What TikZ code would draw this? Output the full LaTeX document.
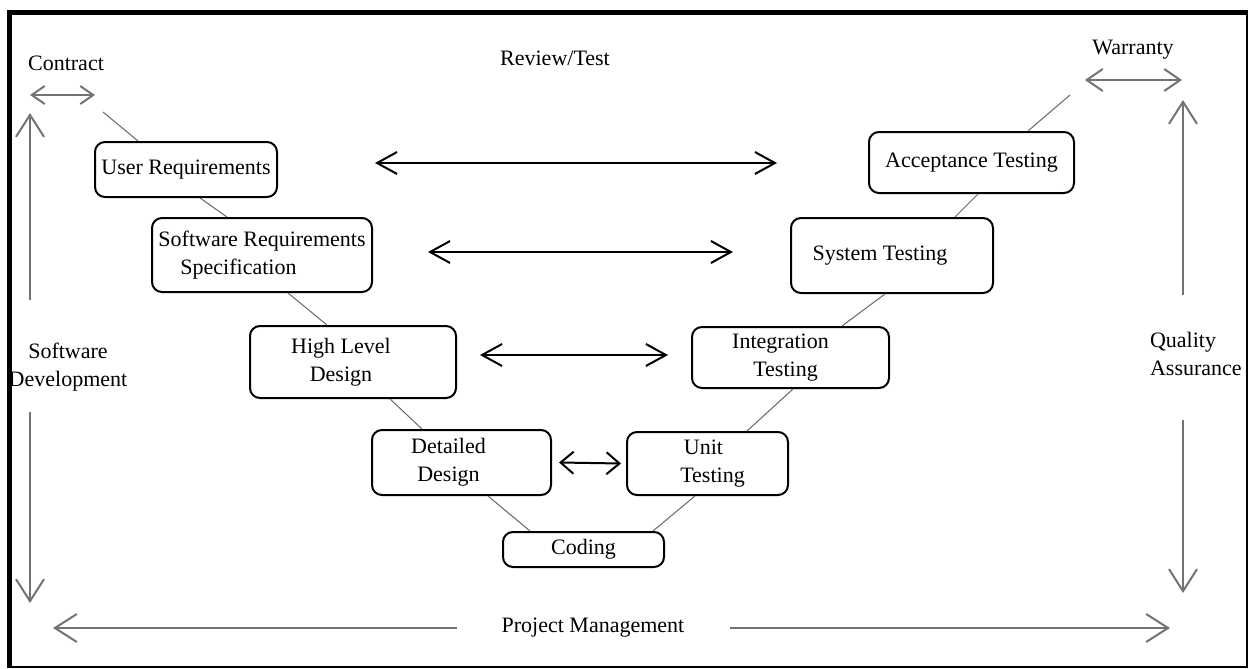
\documentclass[tikz,border=0pt]{standalone}
\usepackage{fontspec}
\setmainfont{Liberation Serif}
\usetikzlibrary{arrows.meta}

\begin{document}
\begin{tikzpicture}[x=0.5pt,y=-0.5pt,font=\fontsize{11}{14}\selectfont,
  stage/.style={draw,rounded corners=5pt,line width=1pt,align=center,inner sep=0pt},
  link/.style={black!60,line width=.5pt},
  rt/.style={{Straight Barb[length=10pt,width=11pt]}-{Straight Barb[length=10pt,width=11pt]},line width=1pt},
  rtsmall/.style={{Straight Barb[length=6.5pt,width=11pt]}-{Straight Barb[length=6.5pt,width=11pt]},line width=1pt},
  side/.style={-{Straight Barb[length=11pt,width=14pt]},black!55,line width=1pt}]
  \useasboundingbox (0,0) rectangle (1250,669);

  % Frame
  \draw[line width=1pt] (10,12) rectangle (1247,667);
  \draw[line width=2.5pt] (7,12) -- (1248,12);
  \draw[line width=2.5pt] (9.5,10) -- (9.5,668);

  % Stages of the V
  \node[stage,minimum width=91pt,minimum height=27.5pt] (ur) at (186,169.5) {User Requirements};
  \node[stage,minimum width=110pt,minimum height=37pt,align=left] (srs) at (262,255) {Software Requirements\\\hspace*{11pt}Specification};
  \node[stage,minimum width=103pt,minimum height=36pt] (hld) at (353,362) {High Level\hspace*{12pt}\\Design\hspace*{12pt}};
  \node[stage,minimum width=89.5pt,minimum height=32.5pt] (dd) at (461.5,462.5) {Detailed\hspace*{13pt}\\Design\hspace*{13pt}};
  \node[stage,minimum width=80.5pt,minimum height=17.5pt] (cod) at (583.5,549.5) {Coding};
  \node[stage,minimum width=80.5pt,minimum height=31.5pt] (ut) at (707.5,463.5) {Unit\hspace*{4pt}\\\hspace*{5pt}Testing};
  \node[stage,minimum width=98.5pt,minimum height=30.5pt] (it) at (790.5,357.5) {Integration\hspace*{10pt}\\Testing\hspace*{5pt}};
  \node[stage,minimum width=101pt,minimum height=37.5pt] (st) at (892,255.5) {System Testing\hspace*{12pt}};
  \node[stage,minimum width=102.5pt,minimum height=30.5pt] (at) at (971.5,162.5) {Acceptance Testing};

  % Side labels
  \node (contract) at (66,63) {Contract};
  \node (review) at (555,58) {Review/Test};
  \node (warranty) at (1133,50) {Warranty};
  \node[align=center] (dev) at (68,367) {Software\\Development};
  \node[align=left,anchor=west] (qa) at (1143,354) {Quality\\Assurance};
  \node (pm) at (593,628) {Project Management};

  \coordinate (c1) at (30,95);
  \coordinate (c2) at (95,95);
  \coordinate (c3) at (103,112);
  \coordinate (w1) at (1085,80);
  \coordinate (w2) at (1182,80);
  \coordinate (w3) at (1070,95);

  % Contract and warranty
  \draw[side,{Straight Barb[length=6.5pt,width=9pt]}-{Straight Barb[length=6.5pt,width=9pt]}] (c1) -- (c2);
  \draw[side,{Straight Barb[length=8pt,width=11pt]}-{Straight Barb[length=8pt,width=11pt]}] (w1) -- (w2);

  % The V
  \draw[link] (c3) -- ([xshift=-24pt]ur.north);
  \draw[link] ([xshift=7pt]ur.south) -- ([xshift=-17.5pt]srs.north);
  \draw[link] ([xshift=13pt]srs.south) -- ([xshift=-13pt]hld.north);
  \draw[link] ([xshift=18.5pt]hld.south) -- ([xshift=-19.75pt]dd.north);
  \draw[link] ([xshift=13.25pt]dd.south) -- ([xshift=-26.75pt]cod.north);
  \draw[link] ([xshift=34.75pt]cod.north) -- ([xshift=-6.25pt]ut.south);
  \draw[link] ([xshift=19.75pt]ut.north) -- ([xshift=1.25pt]it.south);
  \draw[link] ([xshift=25.75pt]it.north) -- ([xshift=-3.5pt]st.south);
  \draw[link] ([xshift=31.5pt]st.north) -- ([xshift=3.25pt]at.south);
  \draw[link] ([xshift=28.25pt]at.north) -- (w3);

  % Review/Test arrows
  \draw[rt] (375,163) -- (777,163);
  \draw[rt] (428,252) -- (733,252);
  \draw[rt] (480,355) -- (668,355);
  \draw[rtsmall] (dd.east) ++(3.5pt,0) -- ([xshift=-2.5pt]ut.west);

  % Software development, quality assurance, project management
  \draw[side] (30,300) -- (30,113);
  \draw[side] (30,412) -- (30,603);
  \draw[side] (1183,295) -- (1183,100);
  \draw[side] (1183,420) -- (1183,593);
  \draw[side] (457,628) -- (53,628);
  \draw[side] (730,628) -- (1170,628);
\end{tikzpicture}
\end{document}
